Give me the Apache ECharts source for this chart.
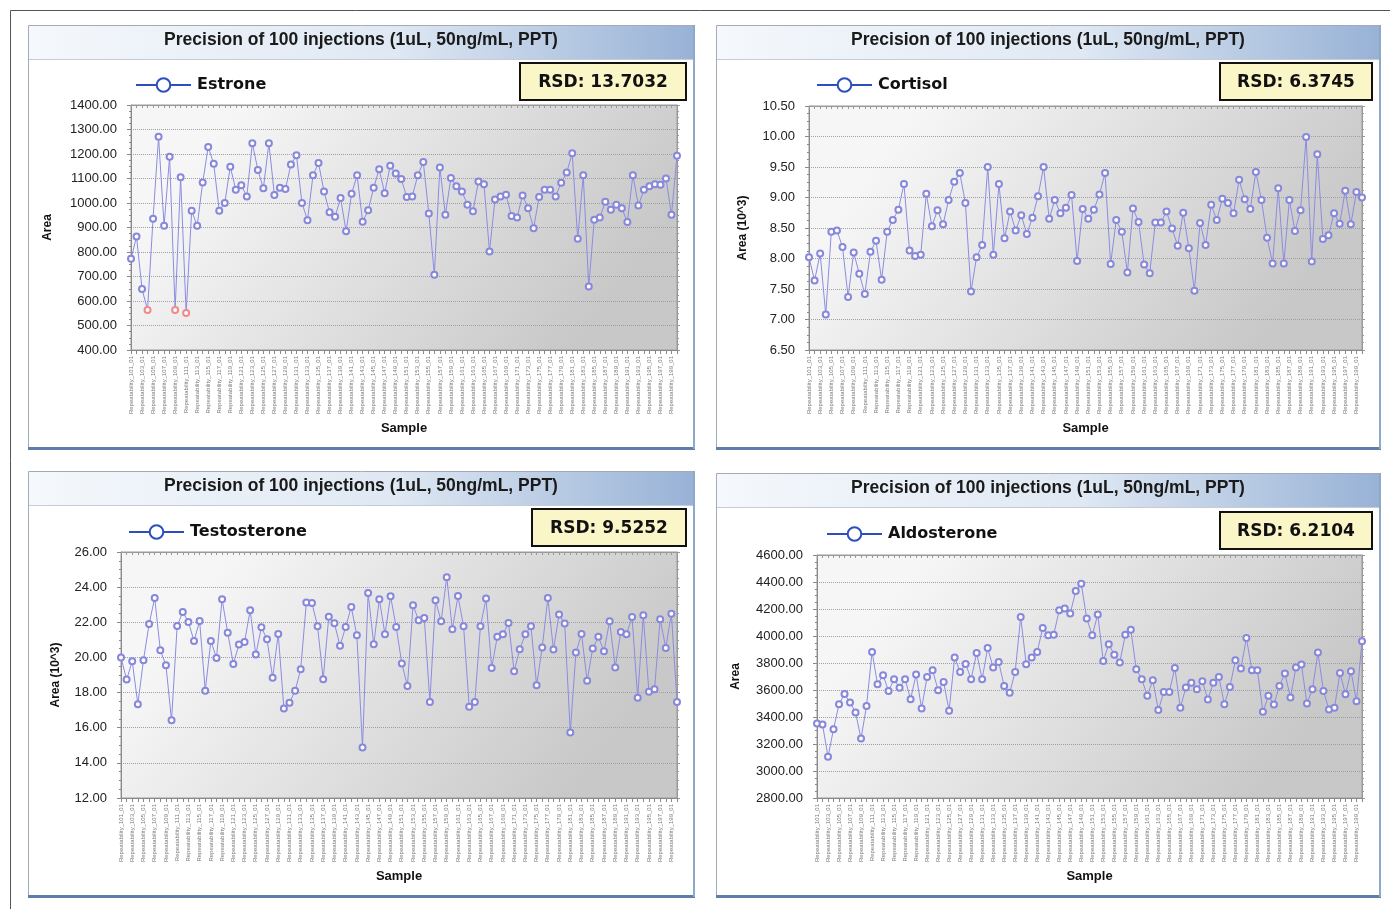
<!DOCTYPE html>
<html><head><meta charset="utf-8">
<script src="https://cdn.jsdelivr.net/npm/echarts@6/dist/echarts.min.js"></script>
<style>html,body{margin:0;padding:0;background:#fff}#c{width:1390px;height:909px}</style>
</head><body><div id="c"></div><script>
const chartTitle = 'Precision of 100 injections (1uL, 50ng/mL, PPT)';
const compounds = ['Estrone', 'Cortisol', 'Testosterone', 'Aldosterone'];
const rsdValues = ['13.7032', '6.3745', '9.5252', '6.2104'];
const yAxisNames = ['Area', 'Area (10^3)', 'Area (10^3)', 'Area'];
const yMin = [400, 6.5, 12, 2800];
const yMax = [1400, 10.5, 26, 4600];
const yStep = [100, 0.5, 2, 200];
const xAxisName = 'Sample';
const samples = Array.from({length: 100}, (_, i) => 'Repeatability_' + (101 + i) + '_01');

const estrone = [772, 863, 649, 563, 936, 1270, 907, 1189, 563, 1105,
  551, 968, 907, 1084, 1229, 1160, 968, 1000, 1148, 1054,
  1072, 1027, 1244, 1135, 1060, 1244, 1033, 1062, 1057, 1157,
  1195, 1000, 930, 1113, 1163, 1047, 962, 944, 1020, 885,
  1038, 1113, 923, 970, 1062, 1138, 1040, 1152, 1120, 1098,
  1024, 1027, 1113, 1167, 957, 707, 1145, 952, 1102, 1068,
  1047, 993, 966, 1088, 1077, 802, 1014, 1027, 1034, 947,
  941, 1031, 979, 897, 1024, 1054, 1054, 1027, 1083, 1124,
  1203, 854, 1113, 659, 932, 941, 1005, 972, 993, 979,
  922, 1113, 990, 1054, 1068, 1077, 1075, 1100, 952, 1193];
const estroneFlagged = [3, 8, 10];

const cortisol = [8.02, 7.64, 8.08, 7.08, 8.44, 8.46, 8.19, 7.37, 8.10, 7.75,
  7.42, 8.11, 8.29, 7.65, 8.44, 8.63, 8.80, 9.22, 8.13, 8.04,
  8.06, 9.06, 8.53, 8.79, 8.56, 8.96, 9.26, 9.40, 8.91, 7.46,
  8.02, 8.22, 9.50, 8.06, 9.22, 8.33, 8.77, 8.46, 8.71, 8.40,
  8.67, 9.02, 9.50, 8.65, 8.96, 8.74, 8.83, 9.04, 7.96, 8.81,
  8.65, 8.80, 9.05, 9.40, 7.91, 8.63, 8.44, 7.77, 8.82, 8.60,
  7.90, 7.76, 8.59, 8.59, 8.77, 8.49, 8.21, 8.75, 8.17, 7.47,
  8.58, 8.22, 8.88, 8.63, 8.98, 8.91, 8.74, 9.29, 8.97, 8.81,
  9.42, 8.96, 8.34, 7.92, 9.15, 7.92, 8.96, 8.45, 8.79, 9.99,
  7.95, 9.71, 8.32, 8.38, 8.74, 8.57, 9.11, 8.56, 9.09, 9.00];

const testosterone = [19.99, 18.74, 19.78, 17.34, 19.84, 21.90, 23.38, 20.41, 19.56, 16.43,
  21.79, 22.59, 22.02, 20.94, 22.07, 18.10, 20.94, 19.97, 23.31, 21.41,
  19.63, 20.73, 20.88, 22.68, 20.16, 21.72, 21.03, 18.84, 21.34, 17.10,
  17.42, 18.10, 19.33, 23.12, 23.10, 21.77, 18.76, 22.32, 21.94, 20.66,
  21.73, 22.87, 21.26, 14.88, 23.66, 20.75, 23.31, 21.32, 23.48, 21.73,
  19.65, 18.38, 22.97, 22.11, 22.24, 17.47, 23.25, 22.06, 24.57, 21.60,
  23.49, 21.77, 17.19, 17.47, 21.77, 23.35, 19.40, 21.17, 21.32, 21.96,
  19.22, 20.47, 21.32, 21.77, 18.42, 20.56, 23.38, 20.45, 22.44, 21.93,
  15.73, 20.28, 21.34, 18.67, 20.51, 21.17, 20.35, 22.06, 19.43, 21.45,
  21.32, 22.30, 17.70, 22.40, 18.04, 18.19, 22.17, 20.54, 22.49, 17.47];

const aldosterone = [3352, 3345, 3105, 3310, 3495, 3571, 3508, 3434, 3241, 3482,
  3882, 3643, 3709, 3593, 3680, 3616, 3680, 3532, 3715, 3463,
  3697, 3746, 3599, 3660, 3446, 3840, 3734, 3793, 3680, 3874,
  3680, 3911, 3766, 3808, 3630, 3579, 3734, 4141, 3791, 3840,
  3882, 4059, 4005, 4010, 4190, 4203, 4166, 4333, 4387, 4129,
  4005, 4160, 3815, 3939, 3862, 3803, 4010, 4047, 3754, 3680,
  3557, 3672, 3451, 3586, 3586, 3763, 3468, 3618, 3653, 3606,
  3665, 3530, 3653, 3697, 3495, 3623, 3820, 3759, 3985, 3746,
  3746, 3438, 3557, 3493, 3630, 3722, 3545, 3766, 3788, 3500,
  3606, 3877, 3593, 3456, 3468, 3726, 3569, 3739, 3517, 3961];

const seriesValues = [estrone, cortisol, testosterone, aldosterone];
const flagged = [estroneFlagged, [], [], []];

// layout (pixels)
const panels = [
  {x: 28, y: 25, w: 666, h: 424, g: {left: 131, top: 105, width: 546, height: 245}, lg: {left: 130, top: 72}, box: {x: 520, y: 63, w: 166, h: 37}, yGap: 77},
  {x: 716, y: 25, w: 664, h: 424, g: {left: 809, top: 106, width: 553, height: 244}, lg: {left: 811, top: 72}, box: {x: 1220, y: 63, w: 152, h: 37}, yGap: 60},
  {x: 28, y: 471, w: 666, h: 426, g: {left: 121, top: 552, width: 556, height: 246}, lg: {left: 123, top: 519}, box: {x: 532, y: 509, w: 154, h: 37}, yGap: 59},
  {x: 716, y: 473, w: 664, h: 424, g: {left: 817, top: 555, width: 545, height: 243}, lg: {left: 821, top: 521}, box: {x: 1220, y: 512, w: 152, h: 37}, yGap: 75}
];

const FONT = "'Liberation Sans', Arial, sans-serif";
const grids = [], xAxes = [], yAxes = [], series = [], legends = [], graphics = [];

graphics.push({type: 'rect', z: -5, silent: true, shape: {x: 10.5, y: 10.5, width: 1400, height: 1000}, style: {fill: '#fff', stroke: '#555', lineWidth: 1}});

panels.forEach((p, i) => {
  // panel frame
  graphics.push({type: 'rect', z: -4, silent: true, shape: {x: p.x + 0.5, y: p.y + 0.5, width: p.w, height: p.h}, style: {fill: '#fff', stroke: '#a3abb7', lineWidth: 1}});
  graphics.push({type: 'rect', z: -3, silent: true, shape: {x: p.x + 1, y: p.y + 1, width: p.w - 1, height: 33},
    style: {fill: new echarts.graphic.LinearGradient(0, 0, 1, 0, [{offset: 0, color: '#f5f8fc'}, {offset: 0.55, color: '#dfe8f3'}, {offset: 1, color: '#98b2d6'}])}});
  graphics.push({type: 'line', z: -3, silent: true, shape: {x1: p.x + 1, y1: p.y + 34.5, x2: p.x + p.w, y2: p.y + 34.5}, style: {stroke: '#c5ccd6', lineWidth: 1}});
  graphics.push({type: 'rect', z: -3, silent: true, shape: {x: p.x, y: p.y + p.h - 2, width: p.w + 1, height: 3}, style: {fill: '#5d7ea9'}});
  graphics.push({type: 'rect', z: -3, silent: true, shape: {x: p.x + p.w - 1, y: p.y, width: 2, height: p.h}, style: {fill: '#8ea8c9'}});
  // title
  graphics.push({type: 'text', z: 5, x: p.x + p.w / 2, y: p.y + 15, style: {text: chartTitle, align: 'center', verticalAlign: 'middle', font: 'bold 17.5px ' + FONT, fill: '#1a1a1a'}});
  // RSD box
  graphics.push({type: 'rect', z: 5, shape: {x: p.box.x, y: p.box.y, width: p.box.w, height: p.box.h}, style: {fill: '#fbf6c8', stroke: '#111', lineWidth: 2}});
  graphics.push({type: 'text', z: 6, x: p.box.x + p.box.w / 2, y: p.box.y + p.box.h / 2 + 1, style: {text: 'RSD: ' + rsdValues[i], align: 'center', verticalAlign: 'middle', font: "bold 17px 'DejaVu Sans', Verdana, sans-serif", fill: '#111'}});

  grids.push({left: p.g.left, top: p.g.top, width: p.g.width, height: p.g.height, show: true,
    backgroundColor: new echarts.graphic.LinearGradient(0.2, 0, 0.8, 1, [{offset: 0, color: '#f6f6f6'}, {offset: 1, color: '#c8c8c8'}]),
    borderColor: '#9a9a9a', borderWidth: 1});

  xAxes.push({gridIndex: i, type: 'category', data: samples, boundaryGap: false,
    name: xAxisName, nameLocation: 'middle', nameGap: 72,
    nameTextStyle: {fontFamily: FONT, fontWeight: 'bold', fontSize: 13, color: '#111'},
    axisLine: {lineStyle: {color: '#8a8a8a'}},
    axisTick: {show: true, interval: 0, length: 4, lineStyle: {color: '#8a8a8a'}},
    axisLabel: {rotate: 90, fontSize: 6, color: '#7a7a7a', interval: 1, margin: 6, fontFamily: FONT},
    splitLine: {show: false}});
  xAxes.push({gridIndex: i, type: 'category', data: samples, boundaryGap: false, position: 'top',
    axisLine: {lineStyle: {color: '#999'}},
    axisTick: {show: true, interval: 0, inside: true, length: 3, lineStyle: {color: '#999'}},
    axisLabel: {show: false}, splitLine: {show: false}});

  yAxes.push({gridIndex: i, type: 'value', min: yMin[i], max: yMax[i], interval: yStep[i],
    name: yAxisNames[i], nameLocation: 'middle', nameRotate: 90, nameGap: p.yGap,
    nameTextStyle: {fontFamily: FONT, fontWeight: 'bold', fontSize: 12, color: '#111'},
    axisLine: {show: true, lineStyle: {color: '#8a8a8a'}},
    axisTick: {show: true, length: 4, lineStyle: {color: '#8a8a8a'}},
    minorTick: {show: true, splitNumber: 4, length: 2, lineStyle: {color: '#8a8a8a'}},
    axisLabel: {formatter: v => v.toFixed(2), fontFamily: FONT, fontSize: 13, color: '#222', margin: 14},
    splitLine: {show: true, lineStyle: {type: 'dotted', color: '#a0a0a0'}}});
  yAxes.push({gridIndex: i, type: 'value', min: yMin[i], max: yMax[i], interval: yStep[i], position: 'right',
    axisLine: {show: true, lineStyle: {color: '#999'}},
    axisTick: {show: true, length: 3, lineStyle: {color: '#999'}},
    minorTick: {show: true, splitNumber: 4, length: 2, lineStyle: {color: '#999'}},
    axisLabel: {show: false}, splitLine: {show: false}});

  const data = seriesValues[i].map((v, k) => flagged[i].includes(k) ? {value: v, itemStyle: {color: '#f08a8a'}} : v);
  series.push({type: 'line', name: compounds[i], xAxisIndex: 2 * i, yAxisIndex: 2 * i, data: data,
    symbol: 'emptyCircle', symbolSize: 6, showAllSymbol: true, animation: false,
    lineStyle: {color: '#8c8ce2', width: 1}, itemStyle: {color: '#8787dc', borderWidth: 1}});

  legends.push({data: [compounds[i]], left: p.lg.left, top: p.lg.top, itemWidth: 55, itemHeight: 17, itemGap: 0,
    textStyle: {fontFamily: "'DejaVu Sans', Verdana, sans-serif", fontWeight: 'bold', fontSize: 16, color: '#111', padding: [0, 0, 0, 1]},
    lineStyle: {color: '#2c4fbd', width: 2}, itemStyle: {color: '#2c4fbd'}, selectedMode: false});
});

const chart = echarts.init(document.getElementById('c'));
chart.setOption({animation: false, backgroundColor: '#fff', graphic: graphics, grid: grids, xAxis: xAxes, yAxis: yAxes, series: series, legend: legends});
</script></body></html>
